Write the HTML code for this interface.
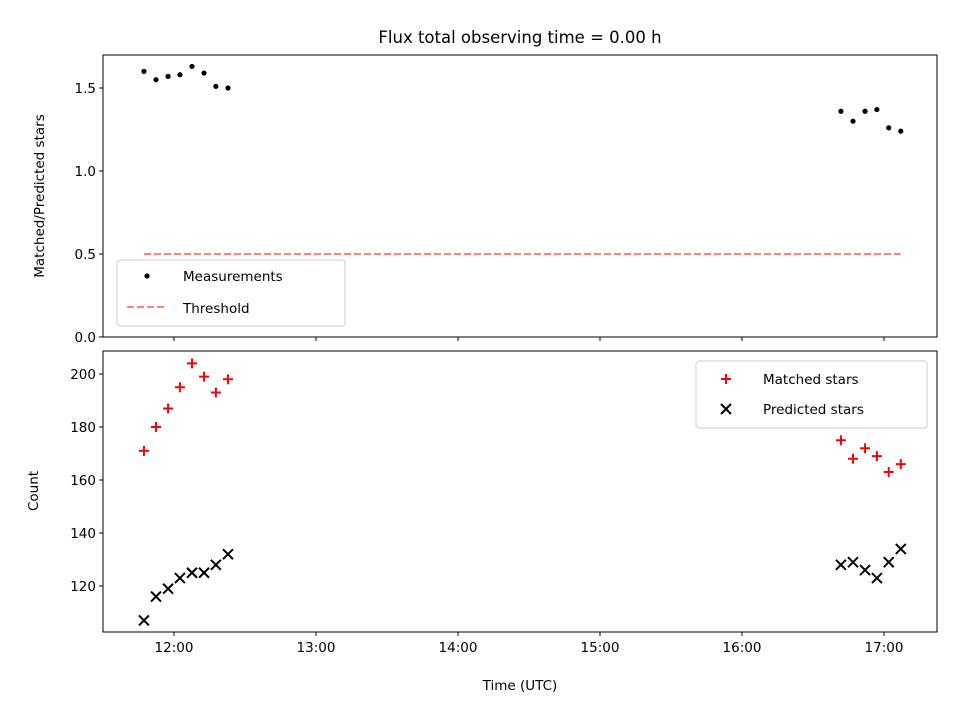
<!DOCTYPE html>
<html><head><meta charset="utf-8"><style>
body{margin:0;background:#fff;}
svg{display:block;font-family:"DejaVu Sans","Liberation Sans",sans-serif;}
</style></head><body>
<svg id="chart" width="960" height="720" viewBox="0 0 960 720" xmlns="http://www.w3.org/2000/svg">
<text x="520" y="43" font-size="16.5" text-anchor="middle">Flux total observing time = 0.00 h</text>
<g id="topPanel"></g>
<g id="botPanel"></g>
</svg>
<script>
// minutes after 12:00 UTC
const times = [-12.7,-7.6,-2.5,2.5,7.6,12.7,17.7,22.8,281.8,286.9,292,297,302,307.1];
const ratios = [1.60,1.55,1.57,1.58,1.63,1.59,1.51,1.50,1.36,1.30,1.36,1.37,1.26,1.24];
const matched = [171,180,187,195,204,199,193,198,175,168,172,169,163,166];
const predicted = [107,116,119,123,125,125,128,132,128,129,126,123,129,134];
const threshold = [0.5];
const xTickLabels = ["12:00","13:00","14:00","15:00","16:00","17:00"];
const xTickMinutes = [0,60,120,180,240,300];
const yTopTicks = [0.0,0.5,1.0,1.5];
const yBotTicks = [120,140,160,180,200];

const NS="http://www.w3.org/2000/svg";
const L=103,R=937;
const sx=m=>174+m*142/60;
const syTop=v=>337-v*166;
const syBot=v=>586-(v-120)*2.65;
function mk(tag,attrs,parent){const e=document.createElementNS(NS,tag);for(const k in attrs)e.setAttribute(k,attrs[k]);parent.appendChild(e);return e;}
const topG=document.getElementById('topPanel'),botG=document.getElementById('botPanel');

function frame(g,y0,y1){
  const r=mk('rect',{x:L,y:y0,width:R-L,height:y1-y0,fill:'none',stroke:'#000','stroke-width':1},g);
  
  
}
frame(topG,55,337);frame(botG,351,632);

xTickMinutes.forEach((m,i)=>{
  const x=sx(m);
  const t1=mk('line',{x1:x,x2:x,y1:337,y2:341,stroke:'#000'},topG);
  
  
  const t2=mk('line',{x1:x,x2:x,y1:632,y2:636,stroke:'#000'},botG);
  
  
  const tx=mk('text',{x:x,y:652,'font-size':13.5,'text-anchor':'middle'},botG);
  tx.textContent=xTickLabels[i];
  
  
});
yTopTicks.forEach(v=>{
  const y=syTop(v);
  const t=mk('line',{x1:L-4,x2:L,y1:y,y2:y,stroke:'#000'},topG);
  
  
  const tx=mk('text',{x:L-7,y:y+5,'font-size':13.5,'text-anchor':'end'},topG);
  tx.textContent=v.toFixed(1);
  
  
});
yBotTicks.forEach(v=>{
  const y=syBot(v);
  const t=mk('line',{x1:L-4,x2:L,y1:y,y2:y,stroke:'#000'},botG);
  
  
  const tx=mk('text',{x:L-7,y:y+5,'font-size':13.5,'text-anchor':'end'},botG);
  tx.textContent=String(v);
  
  
});
let a=mk('text',{x:0,y:0,'font-size':13.5,'text-anchor':'middle',transform:'translate(44,196) rotate(-90)'},topG);
a.textContent='Matched/Predicted stars';


a=mk('text',{x:0,y:0,'font-size':13.5,'text-anchor':'middle',transform:'translate(38,491) rotate(-90)'},botG);
a.textContent='Count';


a=mk('text',{x:520,y:690,'font-size':13.5,'text-anchor':'middle'},botG);
a.textContent='Time (UTC)';



const th=mk('line',{x1:sx(times[0]),x2:sx(times[times.length-1]),y1:syTop(threshold[0]),y2:syTop(threshold[0]),stroke:'#ff7f7f','stroke-width':2,'stroke-dasharray':'7,3'},topG);



times.forEach((m,i)=>{
  const x=sx(m);
  const c=mk('circle',{cx:x,cy:syTop(ratios[i]),r:2.6,fill:'#000'},topG);
  
  
  const y=syBot(matched[i]);
  const p=mk('path',{d:`M${x-5},${y}H${x+5}M${x},${y-5}V${y+5}`,stroke:'#f00','stroke-width':2},botG);
  
  
  const y2=syBot(predicted[i]);
  const q=mk('path',{d:`M${x-5},${y2-5}L${x+5},${y2+5}M${x-5},${y2+5}L${x+5},${y2-5}`,stroke:'#000','stroke-width':2},botG);
  
  
});

let lg=mk('rect',{x:117,y:260,width:228,height:66,rx:3,fill:'#fff','fill-opacity':0.8,stroke:'#ccc'},topG);


let e=mk('circle',{cx:147,cy:276,r:2.6,fill:'#000'},topG);


e=mk('text',{x:183,y:281,'font-size':13.5},topG);e.textContent='Measurements';


e=mk('line',{x1:127,x2:167,y1:307,y2:307,stroke:'#ff7f7f','stroke-width':2,'stroke-dasharray':'7,3'},topG);


e=mk('text',{x:183,y:313,'font-size':13.5},topG);e.textContent='Threshold';



lg=mk('rect',{x:696,y:361,width:231,height:67,rx:3,fill:'#fff','fill-opacity':0.8,stroke:'#ccc'},botG);


e=mk('path',{d:'M721,379H731M726,374V384',stroke:'#f00','stroke-width':2},botG);


e=mk('text',{x:763,y:384,'font-size':13.5},botG);e.textContent='Matched stars';


e=mk('path',{d:'M721,404L731,414M721,414L731,404',stroke:'#000','stroke-width':2},botG);


e=mk('text',{x:763,y:414,'font-size':13.5},botG);e.textContent='Predicted stars';


</script>
</body></html>
